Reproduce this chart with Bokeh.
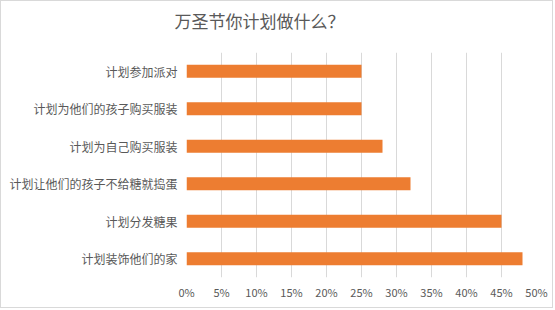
from bokeh.plotting import figure
from bokeh.models import FactorRange, Range1d, FixedTicker, NumeralTickFormatter, Title
from bokeh.embed import file_html
from bokeh.resources import INLINE

title_text = "万圣节你计划做什么？"
categories = ["计划参加派对", "计划为他们的孩子购买服装", "计划为自己购买服装",
              "计划让他们的孩子不给糖就捣蛋", "计划分发糖果", "计划装饰他们的家"]
values = [0.25, 0.25, 0.28, 0.32, 0.45, 0.48]
x_ticks = [0, 0.05, 0.10, 0.15, 0.20, 0.25, 0.30, 0.35, 0.40, 0.45, 0.50]

FONT = "Noto Sans CJK SC"
TEXT_COLOR = "#595959"
GRID = "#d9d9d9"
BAR = "#ED7D31"

p = figure(width=553, height=308, output_backend="svg", toolbar_location=None,
           y_range=FactorRange(*list(reversed(categories)), range_padding=0),
           x_range=Range1d(0, 0.5),
           min_border_left=185, min_border_right=18, min_border_top=51, min_border_bottom=32)

p.hbar(y=categories, right=values, left=0, height=0.35, color=BAR, line_color=None)

p.add_layout(Title(text=title_text, text_font=FONT, text_font_size="17px",
                   text_color=TEXT_COLOR, text_font_style="normal", align="left",
                   offset=-12, standoff=0,
                   padding=dict(left=0, right=0, top=0, bottom=20)), "above")

p.xaxis.ticker = FixedTicker(ticks=x_ticks)
p.xaxis.formatter = NumeralTickFormatter(format="0%")
p.xaxis.axis_line_color = None
p.xaxis.major_tick_line_color = None
p.xaxis.minor_tick_line_color = None
p.xaxis.major_label_text_font = FONT
p.xaxis.major_label_text_font_size = "11px"
p.xaxis.major_label_text_color = TEXT_COLOR
p.xaxis.major_label_standoff = 0

p.yaxis.axis_line_color = None
p.yaxis.major_tick_line_color = None
p.yaxis.minor_tick_line_color = None
p.yaxis.major_tick_out = 0
p.yaxis.major_tick_in = 0
p.yaxis.major_label_text_font = FONT
p.yaxis.major_label_text_font_size = "12px"
p.yaxis.major_label_text_color = TEXT_COLOR
p.yaxis.major_label_standoff = 9

p.xgrid.grid_line_color = GRID
p.xgrid.grid_line_width = 1
p.ygrid.grid_line_color = None
p.outline_line_color = None
p.background_fill_color = "white"
p.border_fill_color = "white"
p.styles = {"border": "1px solid #d9d9d9"}

open("out.html", "w").write(file_html(p, INLINE))
